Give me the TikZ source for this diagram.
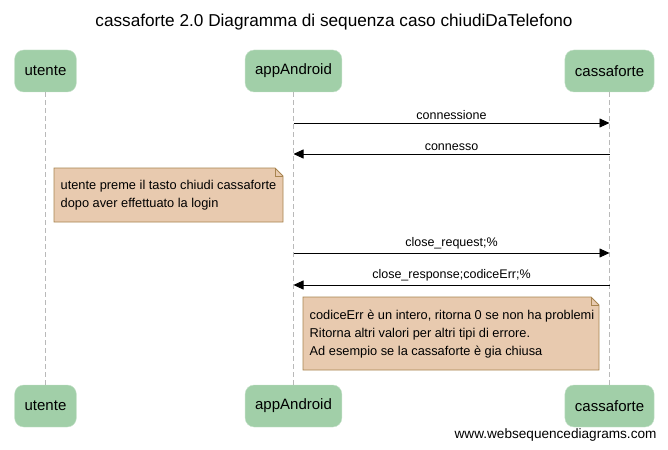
\documentclass[tikz,border=0pt]{standalone}
\usepackage{fontspec}
\setmainfont{Liberation Sans}
\usetikzlibrary{positioning, arrows.meta, calc, backgrounds}
\definecolor{actgreen}{HTML}{A1CFA8}
\definecolor{notefill}{HTML}{E8CAAF}
\definecolor{notedraw}{HTML}{A8844F}

\begin{document}
\begin{tikzpicture}[
  x=1pt, y=-1pt,
  >={Triangle[length=10pt, width=9pt]},
  actor/.style={fill=actgreen, draw=actgreen!60!white, rounded corners=9pt, minimum height=42pt, inner xsep=10pt, font=\fontsize{15}{18}\selectfont},
  life/.style={gray!55, dashed, dash pattern=on 5pt off 3pt, line width=0.7pt},
  msg/.style={->, line width=0.8pt},
  lbl/.style={font=\fontsize{12.5}{15}\selectfont, midway, above=0pt},
  note/.style={anchor=north west, align=left, inner xsep=6.5pt, inner ysep=0pt, font=\fontsize{12.8}{18}\selectfont},
  notebox/.style={fill=notefill, draw=notedraw, line width=0.8pt}
]
\useasboundingbox (0,0) rectangle (668,449);

% Title
\node[font=\fontsize{17.2}{20}\selectfont] (title) at (334,22) {cassaforte 2.0 Diagramma di sequenza caso chiudiDaTelefono};

% Actors top
\node[actor] (uT) at (45.5,71) {utente};
\node[actor] (aT) at (293.5,71) {appAndroid};
\node[actor] (cT) at (609.5,71) {cassaforte};

% Actors bottom
\node[actor] (uB) at (45.5,406) {utente};
\node[actor] (aB) at (293.5,406) {appAndroid};
\node[actor] (cB) at (609.5,406) {cassaforte};

% Lifelines
\draw[life] (uT) -- (uB);
\draw[life] (aT) -- (aB);
\draw[life] (cT) -- (cB);

% Message rows
\coordinate (r1) at (0,123);
\coordinate (r2) at (0,154);
\coordinate (r3) at (0,253);
\coordinate (r4) at (0,285);

\draw[msg] (aT |- r1) -- node[lbl] {connessione} (cT |- r1);
\draw[msg] (cT |- r2) -- node[lbl] {connesso} (aT |- r2);
\draw[msg] (aT |- r3) -- node[lbl] {close\_request;\%} (cT |- r3);
\draw[msg] (cT |- r4) -- node[lbl] {close\_response;codiceErr;\%} (aT |- r4);

% Notes
\node[note, minimum height=54pt] (n1) at (54,168) {utente preme il tasto chiudi cassaforte\\dopo aver effettuato la login};
\node[note, minimum height=73pt] (n2) at (303,297) {codiceErr è un intero, ritorna 0 se non ha problemi\\Ritorna altri valori per altri tipi di errore.\\Ad esempio se la cassaforte è gia chiusa};

\begin{scope}[on background layer]
\foreach \n/\w/\h in {n1/229/54, n2/296/73} {
  \draw[notebox] (\n.north west) -- ++(\w-8,0) -- ++(8,8) -- ++(0,\h-8) -- ++(-\w,0) -- cycle;
  \draw[notedraw, line width=0.6pt] ($(\n.north west)+(\w-8,0)$) -- ++(0,8) -- ++(8,0);
}
\end{scope}

% Watermark
\node[anchor=east, font=\fontsize{13.6}{16}\selectfont] (wm) at (660,435) {www.websequencediagrams.com};

\end{tikzpicture}
\end{document}
